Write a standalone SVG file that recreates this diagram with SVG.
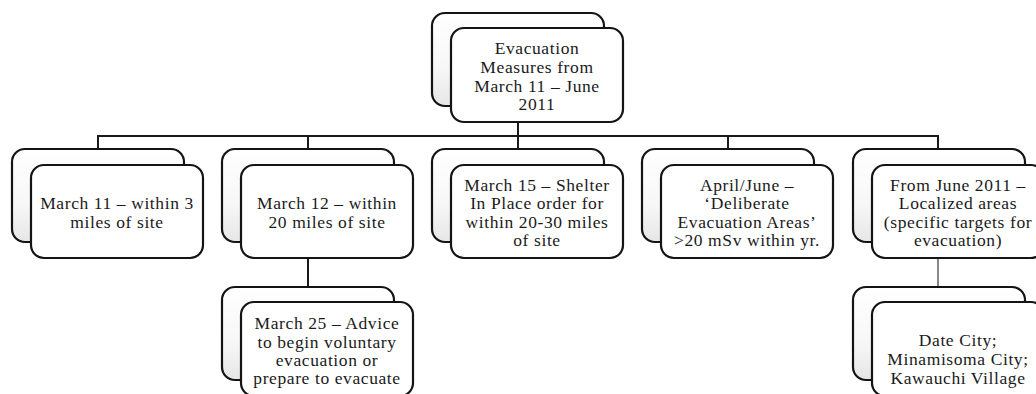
<svg xmlns="http://www.w3.org/2000/svg" width="1036" height="394" viewBox="0 0 1036 394">
<defs>
<linearGradient id="bg" x1="0" y1="0" x2="0" y2="1">
<stop offset="0" stop-color="#ffffff"/>
<stop offset="0.6" stop-color="#f7f7f7"/>
<stop offset="1" stop-color="#e6e6e6"/>
</linearGradient>
<style>
.back{fill:url(#bg);stroke:#141414;stroke-width:2.2}
.front{fill:#ffffff;stroke:#141414;stroke-width:2.2}
.conn{stroke:#1a1a1a;stroke-width:2;fill:none}
.thin{stroke:#3a3a3a;stroke-width:1.2;fill:none}
text{font-family:"Liberation Serif","Times New Roman",serif;font-size:17.5px;letter-spacing:0.6px;fill:#1a1a1a;text-anchor:middle}
</style>
</defs>
<rect width="1036" height="394" fill="#ffffff"/>
<g id="connectors">
<line class="conn" x1="518" y1="122" x2="518" y2="136"/>
<line class="conn" x1="97" y1="136" x2="939" y2="136"/>
<line class="conn" x1="98" y1="136" x2="98" y2="149"/>
<line class="conn" x1="308" y1="136" x2="308" y2="149"/>
<line class="conn" x1="518" y1="136" x2="518" y2="149"/>
<line class="conn" x1="728" y1="136" x2="728" y2="149"/>
<line class="conn" x1="938" y1="136" x2="938" y2="150"/>
<line class="conn" x1="308" y1="258" x2="308" y2="287"/>
<line class="thin" x1="938" y1="259" x2="938" y2="287"/>
</g>
<g id="n0">
<rect class="back" x="432" y="13" width="172" height="93" rx="13"/>
<rect class="front" x="451" y="28" width="172" height="94" rx="13"/>
<text x="537" y="54">Evacuation</text>
<text x="537" y="73">Measures from</text>
<text x="537" y="92">March 11 – June</text>
<text x="537" y="110">2011</text>
</g>
<g id="n1">
<rect class="back" x="12" y="149" width="172" height="93" rx="13"/>
<rect class="front" x="31" y="165" width="172" height="93" rx="13"/>
<text x="117" y="209">March 11 – within 3</text>
<text x="117" y="228">miles of site</text>
</g>
<g id="n2">
<rect class="back" x="222" y="149" width="172" height="93" rx="13"/>
<rect class="front" x="241" y="165" width="172" height="93" rx="13"/>
<text x="327" y="209">March 12 – within</text>
<text x="327" y="228">20 miles of site</text>
</g>
<g id="n3">
<rect class="back" x="432" y="149" width="172" height="93" rx="13"/>
<rect class="front" x="451" y="165" width="172" height="93" rx="13"/>
<text x="537" y="191">March 15 – Shelter</text>
<text x="537" y="209">In Place order for</text>
<text x="537" y="228">within 20-30 miles</text>
<text x="537" y="246">of site</text>
</g>
<g id="n4">
<rect class="back" x="642" y="149" width="172" height="93" rx="13"/>
<rect class="front" x="661" y="165" width="172" height="93" rx="13"/>
<text x="747" y="191">April/June –</text>
<text x="747" y="209">‘Deliberate</text>
<text x="747" y="228">Evacuation Areas’</text>
<text x="747" y="246">&gt;20 mSv within yr.</text>
</g>
<g id="n5">
<rect class="back" x="853" y="149" width="172" height="93" rx="13"/>
<rect class="front" x="872" y="165" width="172" height="93" rx="13"/>
<text x="958" y="191">From June 2011 –</text>
<text x="958" y="209">Localized areas</text>
<text x="958" y="228">(specific targets for</text>
<text x="958" y="246">evacuation)</text>
</g>
<g id="n6">
<rect class="back" x="222" y="287" width="172" height="93" rx="13"/>
<rect class="front" x="241" y="302" width="172" height="94" rx="13"/>
<text x="327" y="329">March 25 – Advice</text>
<text x="327" y="348">to begin voluntary</text>
<text x="327" y="366">evacuation or</text>
<text x="327" y="384">prepare to evacuate</text>
</g>
<g id="n7">
<rect class="back" x="853" y="287" width="172" height="93" rx="13"/>
<rect class="front" x="872" y="302" width="172" height="94" rx="13"/>
<text x="958" y="346">Date City;</text>
<text x="958" y="365">Minamisoma City;</text>
<text x="958" y="384">Kawauchi Village</text>
</g>
</svg>
